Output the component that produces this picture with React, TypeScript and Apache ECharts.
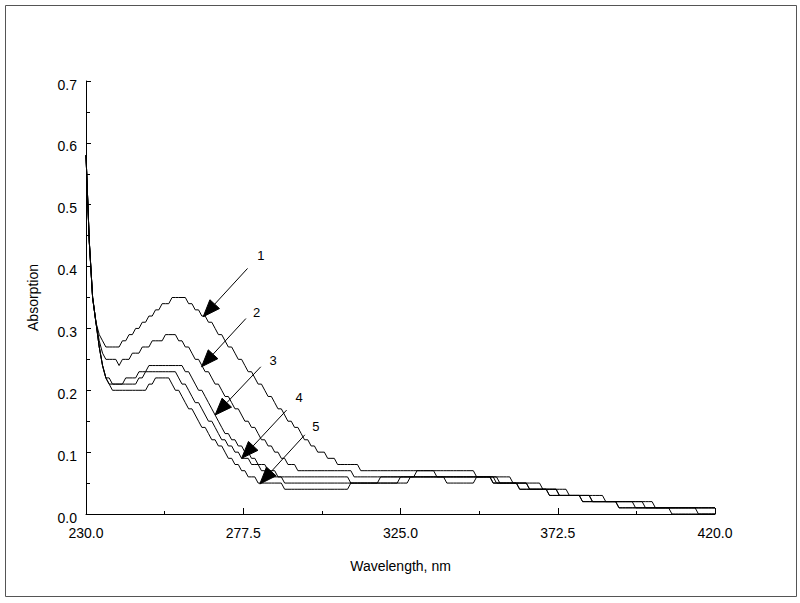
import React, { useEffect, useRef } from "react";
import * as echarts from "echarts";

// Wavelength grid, nm (1 nm steps)
const wavelengths: number[] = Array.from({ length: 191 }, (_, i) => 230 + i);

// Absorption values, one per nm (230 … 420)
const curve1 = [
  0.58, 0.44, 0.35, 0.31, 0.29, 0.28, 0.27, 0.27, 0.27, 0.27,
  0.27, 0.28, 0.28, 0.29, 0.29, 0.30, 0.30, 0.31, 0.31, 0.32,
  0.32, 0.33, 0.33, 0.34, 0.34, 0.34, 0.35, 0.35, 0.35, 0.35,
  0.35, 0.34, 0.34, 0.33, 0.33, 0.32, 0.32, 0.31, 0.31, 0.30,
  0.29, 0.29, 0.28, 0.27, 0.27, 0.26, 0.25, 0.25, 0.24, 0.23,
  0.23, 0.22, 0.21, 0.21, 0.20, 0.19, 0.19, 0.18, 0.17, 0.17,
  0.16, 0.15, 0.15, 0.14, 0.14, 0.13, 0.12, 0.12, 0.11, 0.11,
  0.10, 0.10, 0.10, 0.09, 0.09, 0.09, 0.08, 0.08, 0.08, 0.08,
  0.08, 0.08, 0.08, 0.07, 0.07, 0.07, 0.07, 0.07, 0.07, 0.07,
  0.07, 0.07, 0.07, 0.07, 0.07, 0.07, 0.07, 0.07, 0.07, 0.07,
  0.07, 0.07, 0.07, 0.07, 0.07, 0.07, 0.07, 0.07, 0.07, 0.07,
  0.07, 0.07, 0.07, 0.07, 0.07, 0.07, 0.07, 0.07, 0.06, 0.06,
  0.06, 0.06, 0.06, 0.06, 0.06, 0.06, 0.06, 0.06, 0.06, 0.05,
  0.05, 0.05, 0.05, 0.05, 0.05, 0.05, 0.05, 0.05, 0.04, 0.04,
  0.04, 0.04, 0.04, 0.04, 0.04, 0.04, 0.03, 0.03, 0.03, 0.03,
  0.03, 0.03, 0.03, 0.03, 0.03, 0.03, 0.03, 0.02, 0.02, 0.02,
  0.02, 0.02, 0.02, 0.02, 0.02, 0.02, 0.02, 0.02, 0.02, 0.02,
  0.02, 0.02, 0.01, 0.01, 0.01, 0.01, 0.01, 0.01, 0.01, 0.01,
  0.01, 0.01, 0.01, 0.01, 0.01, 0.01, 0.01, 0.01, 0.01, 0.01,
  0.01,
];

const curve2 = [
  0.58, 0.44, 0.35, 0.31, 0.28, 0.26, 0.25, 0.25, 0.25, 0.25,
  0.24, 0.25, 0.25, 0.25, 0.26, 0.26, 0.26, 0.27, 0.27, 0.27,
  0.28, 0.28, 0.28, 0.28, 0.29, 0.29, 0.29, 0.29, 0.28, 0.28,
  0.27, 0.27, 0.26, 0.25, 0.25, 0.24, 0.23, 0.23, 0.22, 0.21,
  0.21, 0.20, 0.19, 0.19, 0.18, 0.17, 0.17, 0.16, 0.15, 0.15,
  0.14, 0.14, 0.13, 0.12, 0.12, 0.11, 0.11, 0.10, 0.10, 0.09,
  0.09, 0.08, 0.08, 0.08, 0.07, 0.07, 0.07, 0.07, 0.07, 0.07,
  0.07, 0.07, 0.07, 0.07, 0.07, 0.07, 0.07, 0.07, 0.07, 0.07,
  0.07, 0.06, 0.06, 0.06, 0.06, 0.06, 0.06, 0.06, 0.06, 0.06,
  0.06, 0.06, 0.06, 0.06, 0.06, 0.06, 0.06, 0.06, 0.06, 0.06,
  0.07, 0.07, 0.07, 0.07, 0.07, 0.07, 0.06, 0.06, 0.06, 0.06,
  0.06, 0.06, 0.06, 0.06, 0.06, 0.06, 0.06, 0.06, 0.06, 0.06,
  0.06, 0.06, 0.06, 0.06, 0.06, 0.05, 0.05, 0.05, 0.05, 0.05,
  0.05, 0.05, 0.05, 0.05, 0.04, 0.04, 0.04, 0.04, 0.04, 0.04,
  0.04, 0.04, 0.04, 0.03, 0.03, 0.03, 0.03, 0.03, 0.03, 0.03,
  0.03, 0.03, 0.03, 0.02, 0.02, 0.02, 0.02, 0.02, 0.02, 0.02,
  0.02, 0.02, 0.02, 0.02, 0.02, 0.02, 0.02, 0.02, 0.02, 0.01,
  0.01, 0.01, 0.01, 0.01, 0.01, 0.01, 0.01, 0.01, 0.01, 0.01,
  0.01, 0.01, 0.01, 0.01, 0.01, 0.01, 0.01, 0.01, 0.01, 0.01,
  0.01,
];

const curve3 = [
  0.58, 0.44, 0.35, 0.31, 0.27, 0.24, 0.22, 0.22, 0.21, 0.21,
  0.21, 0.21, 0.22, 0.22, 0.22, 0.22, 0.23, 0.23, 0.23, 0.24,
  0.24, 0.24, 0.24, 0.24, 0.24, 0.24, 0.24, 0.24, 0.24, 0.24,
  0.23, 0.23, 0.22, 0.21, 0.20, 0.20, 0.19, 0.18, 0.17, 0.16,
  0.15, 0.14, 0.13, 0.13, 0.12, 0.12, 0.11, 0.11, 0.10, 0.10,
  0.09, 0.09, 0.08, 0.08, 0.08, 0.07, 0.07, 0.07, 0.06, 0.06,
  0.06, 0.06, 0.06, 0.06, 0.06, 0.06, 0.06, 0.06, 0.06, 0.06,
  0.06, 0.06, 0.06, 0.06, 0.06, 0.06, 0.06, 0.06, 0.06, 0.06,
  0.05, 0.05, 0.05, 0.05, 0.05, 0.05, 0.05, 0.05, 0.05, 0.06,
  0.06, 0.06, 0.06, 0.06, 0.06, 0.06, 0.06, 0.06, 0.06, 0.06,
  0.06, 0.06, 0.06, 0.06, 0.06, 0.06, 0.06, 0.06, 0.06, 0.05,
  0.05, 0.05, 0.05, 0.05, 0.05, 0.05, 0.05, 0.05, 0.06, 0.06,
  0.06, 0.06, 0.06, 0.05, 0.05, 0.05, 0.05, 0.05, 0.05, 0.05,
  0.05, 0.04, 0.04, 0.04, 0.04, 0.04, 0.04, 0.04, 0.04, 0.04,
  0.03, 0.03, 0.03, 0.03, 0.03, 0.03, 0.03, 0.03, 0.03, 0.03,
  0.02, 0.02, 0.02, 0.02, 0.02, 0.02, 0.02, 0.02, 0.02, 0.02,
  0.02, 0.02, 0.02, 0.02, 0.02, 0.02, 0.01, 0.01, 0.01, 0.01,
  0.01, 0.01, 0.01, 0.01, 0.01, 0.01, 0.01, 0.01, 0.01, 0.01,
  0.01, 0.01, 0.01, 0.01, 0.01, 0.00, 0.00, 0.00, 0.00, 0.00,
  0.00,
];

const curve4 = [
  0.58, 0.44, 0.35, 0.31, 0.27, 0.24, 0.22, 0.21, 0.21, 0.21,
  0.21, 0.21, 0.21, 0.21, 0.21, 0.21, 0.22, 0.22, 0.23, 0.23,
  0.23, 0.23, 0.23, 0.23, 0.23, 0.23, 0.23, 0.23, 0.22, 0.21,
  0.21, 0.20, 0.19, 0.18, 0.18, 0.17, 0.16, 0.15, 0.15, 0.14,
  0.13, 0.12, 0.12, 0.11, 0.11, 0.10, 0.10, 0.09, 0.09, 0.09,
  0.08, 0.08, 0.08, 0.07, 0.07, 0.07, 0.06, 0.06, 0.06, 0.06,
  0.05, 0.05, 0.05, 0.05, 0.05, 0.05, 0.05, 0.05, 0.05, 0.05,
  0.05, 0.05, 0.05, 0.05, 0.05, 0.05, 0.05, 0.05, 0.05, 0.05,
  0.05, 0.05, 0.05, 0.05, 0.05, 0.05, 0.05, 0.05, 0.05, 0.05,
  0.05, 0.05, 0.05, 0.05, 0.05, 0.06, 0.06, 0.06, 0.06, 0.06,
  0.06, 0.06, 0.06, 0.06, 0.06, 0.06, 0.06, 0.06, 0.06, 0.06,
  0.06, 0.06, 0.06, 0.06, 0.06, 0.06, 0.06, 0.06, 0.06, 0.06,
  0.06, 0.06, 0.06, 0.05, 0.05, 0.05, 0.05, 0.05, 0.05, 0.05,
  0.05, 0.04, 0.04, 0.04, 0.04, 0.04, 0.04, 0.04, 0.04, 0.04,
  0.03, 0.03, 0.03, 0.03, 0.03, 0.03, 0.03, 0.03, 0.03, 0.03,
  0.02, 0.02, 0.02, 0.02, 0.02, 0.02, 0.02, 0.02, 0.02, 0.02,
  0.02, 0.01, 0.01, 0.01, 0.01, 0.01, 0.01, 0.01, 0.01, 0.01,
  0.01, 0.01, 0.01, 0.01, 0.01, 0.01, 0.01, 0.00, 0.00, 0.00,
  0.00, 0.00, 0.00, 0.00, 0.00, 0.00, 0.00, 0.00, 0.00, 0.00,
  0.00,
];

const curve5 = [
  0.58, 0.44, 0.35, 0.31, 0.27, 0.24, 0.22, 0.21, 0.20, 0.20,
  0.20, 0.20, 0.20, 0.20, 0.20, 0.20, 0.20, 0.20, 0.20, 0.21,
  0.21, 0.22, 0.22, 0.22, 0.22, 0.22, 0.21, 0.20, 0.20, 0.19,
  0.18, 0.17, 0.17, 0.16, 0.15, 0.14, 0.14, 0.13, 0.12, 0.12,
  0.11, 0.11, 0.10, 0.09, 0.09, 0.08, 0.08, 0.07, 0.07, 0.06,
  0.06, 0.06, 0.05, 0.05, 0.05, 0.05, 0.05, 0.05, 0.05, 0.05,
  0.04, 0.04, 0.04, 0.04, 0.04, 0.04, 0.04, 0.04, 0.04, 0.04,
  0.04, 0.04, 0.04, 0.04, 0.04, 0.04, 0.04, 0.04, 0.04, 0.04,
  0.05, 0.05, 0.05, 0.05, 0.05, 0.05, 0.05, 0.05, 0.05, 0.05,
  0.05, 0.05, 0.05, 0.05, 0.05, 0.05, 0.05, 0.05, 0.06, 0.06,
  0.06, 0.06, 0.06, 0.06, 0.06, 0.06, 0.06, 0.06, 0.06, 0.06,
  0.06, 0.06, 0.06, 0.06, 0.06, 0.06, 0.06, 0.06, 0.06, 0.06,
  0.06, 0.06, 0.06, 0.06, 0.05, 0.05, 0.05, 0.05, 0.05, 0.05,
  0.05, 0.05, 0.05, 0.05, 0.04, 0.04, 0.04, 0.04, 0.04, 0.04,
  0.04, 0.04, 0.04, 0.03, 0.03, 0.03, 0.03, 0.03, 0.03, 0.03,
  0.03, 0.03, 0.03, 0.02, 0.02, 0.02, 0.02, 0.02, 0.02, 0.02,
  0.02, 0.01, 0.01, 0.01, 0.01, 0.01, 0.01, 0.01, 0.01, 0.01,
  0.01, 0.01, 0.01, 0.01, 0.01, 0.01, 0.01, 0.01, 0.01, 0.01,
  0.01, 0.01, 0.01, 0.01, 0.01, 0.01, 0.01, 0.01, 0.01, 0.01,
  0.01,
];

const curves = [curve1, curve2, curve3, curve4, curve5];
const curveLabels = ["1", "2", "3", "4", "5"];

// Axis ticks
const xMajorTicks = [230, 277.5, 325, 372.5, 420];
const xMinorTicks = [253.75, 301.25, 348.75, 396.25];

// Arrow annotations in data units [wavelength, absorption]
const arrowTails = [
  [278.8, 0.397],
  [278.3, 0.316],
  [282.8, 0.238],
  [290.6, 0.168],
  [296.1, 0.128],
];
const arrowTips = [
  [265.4, 0.319],
  [264.9, 0.238],
  [269.0, 0.16],
  [277.0, 0.09],
  [282.5, 0.0485],
];
const labelPositions = [
  [282.8, 0.418],
  [281.5, 0.325],
  [286.5, 0.248],
  [294.4, 0.189],
  [299.4, 0.141],
];

const FONT = '"Liberation Sans", Arial, Helvetica, sans-serif';

export default function App() {
  const ref = useRef<HTMLDivElement>(null);

  useEffect(() => {
    if (!ref.current) return;
    const chart = echarts.init(ref.current, null, { renderer: "svg" });

    const series = curves.map((vals, k) => ({
      name: curveLabels[k],
      type: "line",
      xAxisIndex: 0,
      yAxisIndex: 0,
      data: wavelengths
        .map((w, i) => [w, vals[i]])
        .filter((p) => p[1] !== undefined),
      showSymbol: false,
      symbol: "none",
      silent: true,
      lineStyle: { color: "#000", width: 1 },
      z: 3,
    }));

    chart.setOption({
      animation: false,
      backgroundColor: "#fff",
      textStyle: { fontFamily: FONT },
      grid: { left: 86, right: 85, top: 81, bottom: 89, containLabel: false },
      xAxis: [
        {
          type: "value",
          min: 230,
          max: 420,
          name: "Wavelength, nm",
          nameLocation: "middle",
          nameGap: 45,
          nameTextStyle: { fontSize: 14, color: "#000", fontFamily: FONT },
          axisLine: { show: true, lineStyle: { color: "#000", width: 1 } },
          axisTick: {
            show: true,
            inside: true,
            length: 6,
            customValues: xMajorTicks,
            lineStyle: { color: "#000" },
          },
          axisLabel: {
            show: true,
            customValues: xMajorTicks,
            formatter: (v: number) => v.toFixed(1),
            fontSize: 14,
            color: "#000",
            margin: 12,
            fontFamily: FONT,
          },
          splitLine: { show: false },
        },
        {
          type: "value",
          min: 230,
          max: 420,
          position: "bottom",
          axisLine: { show: false },
          axisTick: {
            show: true,
            inside: true,
            length: 3,
            customValues: xMinorTicks,
            lineStyle: { color: "#000" },
          },
          axisLabel: { show: false },
          splitLine: { show: false },
        },
      ],
      yAxis: {
        type: "value",
        min: 0,
        max: 0.7,
        interval: 0.1,
        name: "Absorption",
        nameLocation: "middle",
        nameGap: 46,
        nameTextStyle: { fontSize: 14, color: "#000", fontFamily: FONT },
        axisLine: { show: true, lineStyle: { color: "#000", width: 1 } },
        axisTick: { show: true, inside: true, length: 5, lineStyle: { color: "#000" } },
        minorTick: { show: true, splitNumber: 2, length: 4, lineStyle: { color: "#000" } },
        axisLabel: {
          formatter: (v: number) => "{v|" + v.toFixed(1) + "}",
          fontSize: 14,
          color: "#000",
          margin: 9,
          fontFamily: FONT,
          rich: {
            v: {
              fontSize: 14,
              color: "#000",
              fontFamily: FONT,
              padding: [7, 0, 0, 0],
            },
          },
        },
        splitLine: { show: false },
        minorSplitLine: { show: false },
      },
      series,
    });

    const graphics: any[] = [
      {
        type: "rect",
        silent: true,
        shape: { x: 5.5, y: 5.5, width: 791, height: 591 },
        style: { fill: "none", stroke: "#555", lineWidth: 1 },
      },
    ];
    const HEAD_LEN = 17;
    const HEAD_W = 13;
    arrowTips.forEach((tipData, i) => {
      const tip = chart.convertToPixel({ seriesIndex: 0 }, tipData) as number[];
      const tail = chart.convertToPixel({ seriesIndex: 0 }, arrowTails[i]) as number[];
      const lab = chart.convertToPixel({ seriesIndex: 0 }, labelPositions[i]) as number[];
      const dx = tip[0] - tail[0];
      const dy = tip[1] - tail[1];
      const len = Math.hypot(dx, dy);
      const ux = dx / len;
      const uy = dy / len;
      const bx = tip[0] - ux * HEAD_LEN;
      const by = tip[1] - uy * HEAD_LEN;
      const nx = -uy;
      const ny = ux;
      graphics.push({
        type: "line",
        silent: true,
        z: 10,
        shape: { x1: tail[0], y1: tail[1], x2: bx, y2: by },
        style: { stroke: "#000", lineWidth: 1 },
      });
      graphics.push({
        type: "polygon",
        silent: true,
        z: 10,
        shape: {
          points: [
            [tip[0], tip[1]],
            [bx + (nx * HEAD_W) / 2, by + (ny * HEAD_W) / 2],
            [bx - (nx * HEAD_W) / 2, by - (ny * HEAD_W) / 2],
          ],
        },
        style: { fill: "#000", stroke: "#000", lineWidth: 1 },
      });
      graphics.push({
        type: "text",
        silent: true,
        z: 10,
        x: lab[0],
        y: lab[1],
        style: {
          text: curveLabels[i],
          fontSize: 13,
          fontFamily: FONT,
          fill: "#000",
          align: "center",
          verticalAlign: "middle",
          textAlign: "center",
          textVerticalAlign: "middle",
        },
      });
    });
    chart.setOption({ graphic: graphics });

    return () => {
      chart.dispose();
    };
  }, []);

  return (
    <div
      ref={ref}
      style={{ position: "fixed", left: 0, top: 0, width: 800, height: 603, background: "#fff" }}
    />
  );
}
